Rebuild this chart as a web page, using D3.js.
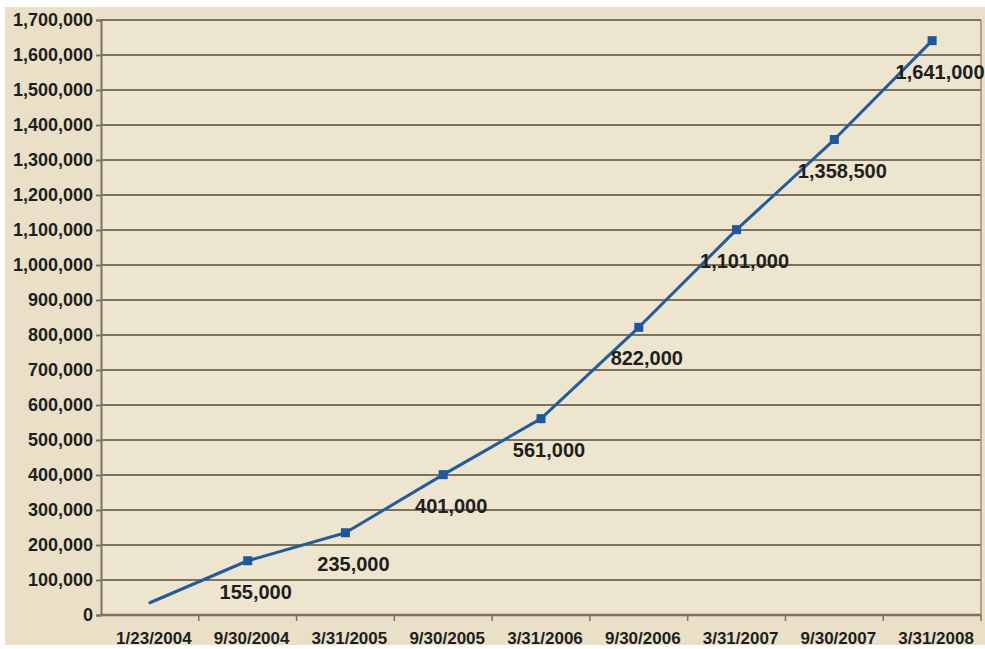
<!DOCTYPE html>
<html>
<head>
<meta charset="utf-8">
<script src="https://cdn.jsdelivr.net/npm/d3@7/dist/d3.min.js"></script>
<style>
  html, body { margin: 0; padding: 0; background: #ffffff; }
  svg { display: block; }
  .num { font-family: "Liberation Sans", Arial, sans-serif; font-weight: bold; fill: #1e1e1e; }
</style>
</head>
<body>
<svg id="chart" width="985" height="649"></svg>
<script>
// Reporting dates along the category axis
const dates = ["1/23/2004", "9/30/2004", "3/31/2005", "9/30/2005", "3/31/2006",
               "9/30/2006", "3/31/2007", "9/30/2007", "3/31/2008"];
// Cumulative totals at each date
const totals = [35000, 155000, 235000, 401000, 561000, 822000, 1101000, 1358500, 1641000];
// Which points carry a value label
const labelled = [false, true, true, true, true, true, true, true, true];
// Value axis ticks
const yTicks = d3.range(0, 1700001, 100000);

const W = 985, H = 649;
const plot = { left: 101, right: 981, top: 20, bottom: 615 };

const svg = d3.select("#chart");

// page and plot backgrounds
svg.append("rect").attr("x", 5).attr("y", 7).attr("width", W - 5).attr("height", H - 11)
  .attr("fill", "#eae0c8");
svg.append("rect").attr("x", plot.left).attr("y", plot.top)
  .attr("width", plot.right - plot.left).attr("height", plot.bottom - plot.top)
  .attr("fill", "#eee5cf");

const x = d3.scaleBand().domain(dates).range([plot.left, plot.right]).padding(0);
const y = d3.scaleLinear().domain([0, 1700000]).range([plot.bottom, plot.top]);

const gridColor = "#7b735c";

// horizontal gridlines
svg.append("g").selectAll("line").data(yTicks.filter(d => d > 0)).join("line")
  .attr("x1", plot.left).attr("x2", plot.right)
  .attr("y1", d => y(d)).attr("y2", d => y(d))
  .attr("stroke", gridColor).attr("stroke-width", 2);

// right edge of plot area
svg.append("line").attr("x1", plot.right).attr("x2", plot.right)
  .attr("y1", plot.top).attr("y2", plot.bottom)
  .attr("stroke", "#9a917a").attr("stroke-width", 1.5);

// value axis
const yAxis = d3.axisLeft(y).tickValues(yTicks).tickSize(5).tickPadding(3)
  .tickFormat(d3.format(","));
const gy = svg.append("g").attr("transform", `translate(${plot.left},0)`).call(yAxis);
gy.select(".domain").attr("stroke", gridColor).attr("stroke-width", 2);
gy.selectAll(".tick line").attr("stroke", gridColor).attr("stroke-width", 2);
gy.selectAll(".tick text").attr("class", "num").attr("font-size", 18);

// category axis: ticks sit between categories
const boundaries = dates.map(d => x(d)).concat([plot.right]);
const gx = svg.append("g");
gx.append("line").attr("x1", plot.left).attr("x2", plot.right)
  .attr("y1", plot.bottom).attr("y2", plot.bottom)
  .attr("stroke", gridColor).attr("stroke-width", 2.5);
gx.selectAll("line.tk").data(boundaries.slice(1)).join("line").attr("class", "tk")
  .attr("x1", d => d).attr("x2", d => d)
  .attr("y1", plot.bottom).attr("y2", plot.bottom + 6)
  .attr("stroke", gridColor).attr("stroke-width", 1.5);
gx.selectAll("text").data(dates).join("text").attr("class", "num")
  .attr("x", d => x(d) + x.bandwidth() / 2 + 4)
  .attr("y", plot.bottom + 23)
  .attr("dy", "0.35em")
  .attr("text-anchor", "middle")
  .attr("font-size", 17)
  .text(d => d);

// series line
const pts = dates.map((d, i) => ({ date: d, value: totals[i], label: labelled[i] }));
const cx = d => x(d.date) + x.bandwidth() / 2;
const line = d3.line().x(cx).y(d => y(d.value));
svg.append("path").datum(pts).attr("d", line)
  .attr("fill", "none").attr("stroke", "#1f5d9e").attr("stroke-width", 3)
  .attr("stroke-linejoin", "round").attr("stroke-linecap", "round");

// square markers
const ms = 9;
svg.append("g").selectAll("rect").data(pts.filter(d => d.label)).join("rect")
  .attr("x", d => cx(d) - ms / 2).attr("y", d => y(d.value) - ms / 2)
  .attr("width", ms).attr("height", ms)
  .attr("fill", "#1b57a2");

// value labels below the markers
svg.append("g").selectAll("text").data(pts.filter(d => d.label)).join("text")
  .attr("class", "num")
  .attr("x", d => Math.min(cx(d) + 8, plot.right - 40))
  .attr("y", d => y(d.value) + 31)
  .attr("dy", "0.35em")
  .attr("text-anchor", "middle")
  .attr("font-size", 20)
  .text(d => d3.format(",")(d.value));
</script>
</body>
</html>
